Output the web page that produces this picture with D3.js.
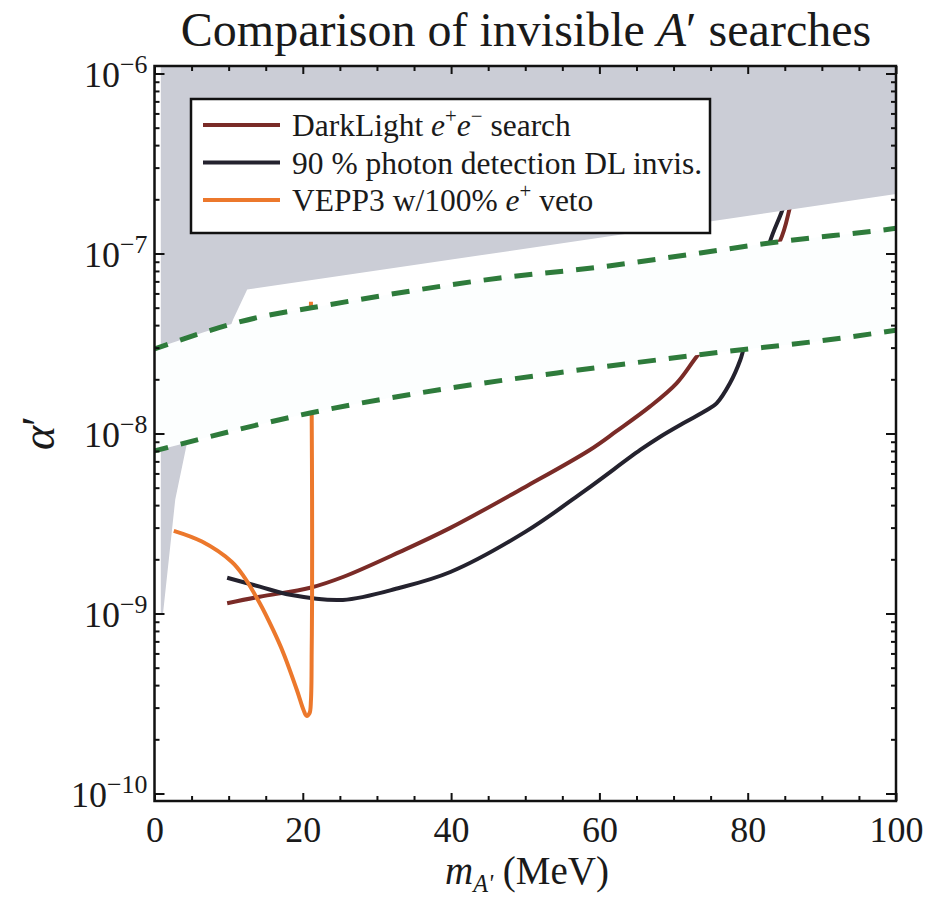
<!DOCTYPE html>
<html><head><meta charset="utf-8">
<script src="https://cdn.jsdelivr.net/npm/d3@7"></script>
<style>body{margin:0;background:#fff}</style>
</head><body>
<svg id="chart" width="930" height="905"></svg>
<script>
// ---------------- DATA ----------------
const xTickValues = [0, 20, 40, 60, 80, 100];
const yTickValues = [1e-6, 1e-7, 1e-8, 1e-9, 1e-10];
const yTickExponents = ["−6", "−7", "−8", "−9", "−10"];

// DarkLight e+e- search
const darkLightX = [9.8, 14.2, 21.0, 25.5, 33.1, 39.9, 50.0, 58.7, 62.3, 66.8, 70.4, 73.1, 79.0, 84.3, 85.7, 86.3];
const darkLightY = [1.14e-9, 1.24e-9, 1.39e-9, 1.60e-9, 2.20e-9, 2.99e-9, 5.05e-9, 8.10e-9, 1.03e-8, 1.41e-8, 1.90e-8, 2.67e-8, 5.5e-8, 1.16e-7, 1.81e-7, 2.3e-7];

// 90 % photon detection DL invis.
const photonX = [9.8, 14.2, 18.3, 25.4, 33.1, 39.9, 50.0, 58.0, 65.5, 68.2, 71.3, 74.5, 75.8, 77.6, 79.0, 79.4, 81.5, 83.0, 84.8, 85.3];
const photonY = [1.58e-9, 1.41e-9, 1.27e-9, 1.19e-9, 1.39e-9, 1.70e-9, 2.84e-9, 4.8e-9, 8.10e-9, 9.6e-9, 1.14e-8, 1.35e-8, 1.47e-8, 1.90e-8, 2.56e-8, 2.91e-8, 6.0e-8, 1.16e-7, 1.81e-7, 2.3e-7];

// VEPP3 w/100% e+ veto
const veppX = [2.6, 6.4, 10.4, 11.9, 14.2, 16.0, 17.4, 19.2, 20.1, 20.5, 20.9, 21.1, 21.2, 21.25, 21.25, 21.2, 21.1, 21.1];
const veppY = [2.88e-9, 2.51e-9, 1.94e-9, 1.64e-9, 1.14e-9, 8.1e-10, 6.0e-10, 3.76e-10, 2.91e-10, 2.70e-10, 2.79e-10, 3.3e-10, 6.3e-10, 1.19e-9, 4.3e-9, 1.27e-8, 4.7e-8, 5.4e-8];

// Upper / lower green dashed lines
const upperDashX = [0, 14.2, 21.0, 46.6, 60.1, 73.6, 84.0, 98.3, 100];
const upperDashY = [2.95e-8, 4.44e-8, 4.98e-8, 7.31e-8, 8.41e-8, 1.007e-7, 1.159e-7, 1.352e-7, 1.38e-7];
const lowerDashX = [0, 21.0, 39.9, 54.3, 73.2, 93.8, 98.3, 100];
const lowerDashY = [8.0e-9, 1.30e-8, 1.79e-8, 2.17e-8, 2.73e-8, 3.44e-8, 3.66e-8, 3.75e-8];

// Grey excluded region boundary
const excludedX = [0.85, 0.85, 1.15, 2.8, 4.4, 10.6, 12.5, 100, 100];
const excludedY = [1.3e-6, 1.0e-9, 1.0e-9, 4.3e-9, 8.9e-9, 4.3e-8, 6.3e-8, 2.14e-7, 1.3e-6];

const legendLabels = [
  [{t:"DarkLight "},{t:"e",i:1},{t:"+",sup:1},{t:"e",i:1},{t:"−",sup:1},{t:" search"}],
  [{t:"90 % photon detection DL invis."}],
  [{t:"VEPP3 w/100% "},{t:"e",i:1},{t:"+",sup:1},{t:" veto"}]
];
const seriesColors = ["#7a2b27", "#24222e", "#ec782c"];
const titleText = [{t:"Comparison of invisible "},{t:"A",i:1},{t:"′"},{t:" searches"}];
const xLabelText = [{t:"m",i:1},{t:"A'",i:1,sub:1},{t:" (MeV)"}];
const yLabelText = [{t:"α",i:1},{t:"′"}];

// ---------------- LAYOUT ----------------
const FONT = "'Liberation Serif', 'Times New Roman', serif";
const frame = {left:154.5, right:896, top:66, bottom:801};
const yPad = 7.5;
const svg = d3.select("#chart");
const x = d3.scaleLinear().domain([0,100]).range([frame.left, frame.right]);
const y = d3.scaleLog().domain([1e-10,1e-6]).range([frame.bottom - yPad, frame.top + yPad]);

function richText(sel, segs, size, supScale, subShift){
  const sc = supScale || 0.66;
  const sb = subShift || 0.28;
  let shift = 0;
  segs.forEach(s=>{
    const ts = sel.append("tspan").text(s.t);
    if (s.i) ts.attr("font-style","italic");
    const target = s.sup ? -0.4*size : s.sub ? sb*size : 0;
    ts.attr("dy", target - shift);
    shift = target;
    if (s.sup || s.sub) ts.attr("font-size", (size*sc).toFixed(1));
  });
}

svg.append("defs").append("clipPath").attr("id","plotClip")
  .append("rect").attr("x",frame.left).attr("y",frame.top)
  .attr("width",frame.right-frame.left).attr("height",frame.bottom-frame.top);

const plot = svg.append("g").attr("clip-path","url(#plotClip)");

const line = d3.line().x(d=>x(d[0])).y(d=>y(d[1])).curve(d3.curveCatmullRom.alpha(0.5));
const zip = (a,b)=>a.map((v,i)=>[v,b[i]]);

// curves (underneath the exclusion and band)
const curves = [zip(darkLightX,darkLightY), zip(photonX,photonY), zip(veppX,veppY)];
curves.forEach((c,i)=>{
  plot.append("path").attr("d", line(c)).attr("fill","none")
    .attr("stroke", seriesColors[i]).attr("stroke-width",4)
    .attr("stroke-linejoin","round").attr("stroke-linecap","butt");
});

// grey excluded region
const poly = d3.line().x(d=>x(d[0])).y(d=>y(d[1])).curve(d3.curveLinearClosed);
plot.append("path").attr("d", poly(zip(excludedX,excludedY)))
  .attr("fill","#cbcdd6").attr("stroke","none");

// band between dashed lines
const upper = zip(upperDashX, upperDashY);
const lower = zip(lowerDashX, lowerDashY);
const smooth = d3.line().x(d=>x(d[0])).y(d=>y(d[1])).curve(d3.curveMonotoneX);
plot.append("path")
  .attr("d", smooth(upper) + "L" + smooth(lower.slice().reverse()).slice(1) + "Z")
  .attr("fill","#fcfefe").attr("stroke","none");

[upper, lower].forEach(l=>{
  plot.append("path").attr("d", smooth(l)).attr("fill","none")
    .attr("stroke","#2e7b3b").attr("stroke-width",5)
    .attr("stroke-dasharray","18,13").attr("stroke-dashoffset",4);
});

// ---------------- AXES / FRAME ----------------
const xMinor = d3.range(5,100,5).filter(v=>v%20!==0);
const yMinor = [];
[-10,-9,-8,-7].forEach(e=>{ for(let k=2;k<=9;k++) yMinor.push(k*Math.pow(10,e)); });

function styleAxis(g){
  g.select(".domain").remove();
  g.selectAll(".tick line").attr("stroke","#111").attr("stroke-width",2);
}
// bottom
svg.append("g").attr("transform",`translate(0,${frame.bottom})`)
  .call(d3.axisBottom(x).tickValues(xTickValues).tickSize(-8).tickPadding(15).tickFormat(d3.format("d")))
  .call(styleAxis)
  .call(g=>g.selectAll("text").attr("font-family",FONT).attr("font-size",36).attr("fill","#1a1a1a"));
svg.append("g").attr("transform",`translate(0,${frame.bottom})`)
  .call(d3.axisBottom(x).tickValues(xMinor).tickSize(-5).tickFormat(""))
  .call(styleAxis);
// top
svg.append("g").attr("transform",`translate(0,${frame.top})`)
  .call(d3.axisTop(x).tickValues(xTickValues).tickSize(-8).tickFormat(""))
  .call(styleAxis);
svg.append("g").attr("transform",`translate(0,${frame.top})`)
  .call(d3.axisTop(x).tickValues(xMinor).tickSize(-5).tickFormat(""))
  .call(styleAxis);
// left
const leftAxis = svg.append("g").attr("transform",`translate(${frame.left},0)`)
  .call(d3.axisLeft(y).tickValues(yTickValues).tickSize(-10).tickPadding(8).tickFormat(""))
  .call(styleAxis);
leftAxis.selectAll(".tick").each(function(d,i){
  const t = d3.select(this).append("text")
    .attr("x",-7).attr("y",13).attr("text-anchor","end")
    .attr("font-family",FONT).attr("font-size",36).attr("fill","#1a1a1a");
  richText(t, [{t:"10"},{t:yTickExponents[i],sup:1}], 36, 0.72);
});
svg.append("g").attr("transform",`translate(${frame.left},0)`)
  .call(d3.axisLeft(y).tickValues(yMinor).tickSize(-5).tickFormat(""))
  .call(styleAxis);
// right
svg.append("g").attr("transform",`translate(${frame.right},0)`)
  .call(d3.axisRight(y).tickValues(yTickValues).tickSize(-10).tickFormat(""))
  .call(styleAxis);
svg.append("g").attr("transform",`translate(${frame.right},0)`)
  .call(d3.axisRight(y).tickValues(yMinor).tickSize(-5).tickFormat(""))
  .call(styleAxis);

svg.append("rect").attr("x",frame.left).attr("y",frame.top)
  .attr("width",frame.right-frame.left).attr("height",frame.bottom-frame.top)
  .attr("fill","none").attr("stroke","#111").attr("stroke-width",2.5);

// ---------------- LEGEND ----------------
const leg = {x:191, y:99, w:519, h:134, row0:125, rowStep:37.5};
svg.append("rect").attr("x",leg.x).attr("y",leg.y).attr("width",leg.w).attr("height",leg.h)
  .attr("fill","#fff").attr("stroke","#111").attr("stroke-width",2.5);
legendLabels.forEach((lab,i)=>{
  const yy = leg.row0 + i*leg.rowStep;
  svg.append("line").attr("x1",203).attr("x2",280).attr("y1",yy).attr("y2",yy)
    .attr("stroke",seriesColors[i]).attr("stroke-width",4);
  const t = svg.append("text").attr("x",292).attr("y",yy+11)
    .attr("font-family",FONT).attr("font-size",31.5).attr("fill","#1a1a1a");
  richText(t, lab, 31.5);
});

// ---------------- TITLES ----------------
const title = svg.append("text").attr("x",526).attr("y",46).attr("text-anchor","middle")
  .attr("font-family",FONT).attr("font-size",48).attr("fill","#1a1a1a");
richText(title, titleText, 48);

const xl = svg.append("text").attr("x",527).attr("y",884).attr("text-anchor","middle")
  .attr("font-family",FONT).attr("font-size",39).attr("fill","#1a1a1a");
richText(xl, xLabelText, 39, 0.62, 0.2);

const yl = svg.append("text").attr("transform","translate(54,433) rotate(-90)").attr("text-anchor","middle")
  .attr("font-family",FONT).attr("font-size",46).attr("fill","#1a1a1a");
richText(yl, yLabelText, 46);
</script>
</body></html>
